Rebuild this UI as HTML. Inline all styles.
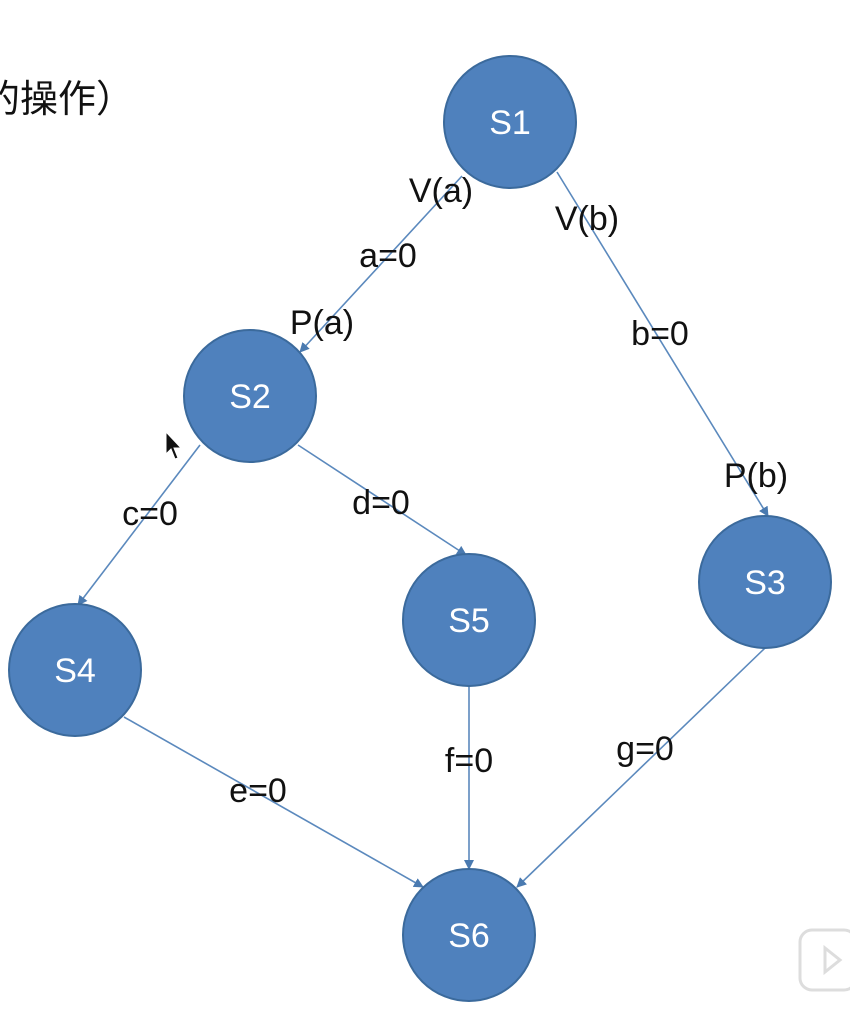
<!DOCTYPE html>
<html><head><meta charset="utf-8"><style>
html,body{margin:0;padding:0;background:#fff;}
body{width:850px;height:1014px;overflow:hidden;position:relative;}
svg{position:absolute;left:0;top:0;}
</style></head><body>
<svg width="850" height="1014" viewBox="0 0 850 1014" xmlns="http://www.w3.org/2000/svg">
<defs>
<marker id="ar" markerWidth="10" markerHeight="10" refX="9" refY="5" orient="auto" markerUnits="userSpaceOnUse">
<path d="M0,0 L10,5 L0,10 z" fill="#4a7ab0"/>
</marker>
</defs>
<text x="-18" y="112" font-family="Liberation Sans, Noto Sans CJK SC, sans-serif" font-size="38" fill="#111">的操作）</text>
<g stroke="#5b89bd" stroke-width="1.6" fill="none" marker-end="url(#ar)">
<line x1="462" y1="176" x2="300" y2="352"/>
<line x1="557" y1="172" x2="768" y2="516"/>
<line x1="200" y1="445" x2="78" y2="605"/>
<line x1="298" y1="445" x2="466" y2="555"/>
<line x1="765" y1="648" x2="517" y2="887"/>
<line x1="124" y1="717" x2="423" y2="887"/>
<line x1="469" y1="685" x2="469" y2="869"/>
</g>
<g fill="#4f81bd" stroke="#3b6a9c" stroke-width="2">
<circle cx="510" cy="122" r="66"/>
<circle cx="250" cy="396" r="66"/>
<circle cx="765" cy="582" r="66"/>
<circle cx="75" cy="670" r="66"/>
<circle cx="469" cy="620" r="66"/>
<circle cx="469" cy="935" r="66"/>
</g>
<g fill="#fff" font-family="Liberation Sans, sans-serif" font-size="34" text-anchor="middle">
<text x="510" y="134">S1</text>
<text x="250" y="408">S2</text>
<text x="765" y="594">S3</text>
<text x="75" y="682">S4</text>
<text x="469" y="632">S5</text>
<text x="469" y="947">S6</text>
</g>
<g fill="#111" font-family="Liberation Sans, sans-serif" font-size="34" text-anchor="middle">
<text x="441" y="202">V(a)</text>
<text x="388" y="267">a=0</text>
<text x="322" y="334">P(a)</text>
<text x="587" y="230">V(b)</text>
<text x="660" y="345">b=0</text>
<text x="756" y="487">P(b)</text>
<text x="150" y="525">c=0</text>
<text x="381" y="514">d=0</text>
<text x="469" y="772">f=0</text>
<text x="645" y="760">g=0</text>
<text x="258" y="802">e=0</text>
</g>
<path d="M166,432 L166,454 L171,449 L175,459 L178,458 L174,448 L181,448 z" fill="#111" stroke="#fff" stroke-width="1"/>
<g fill="none" stroke="#ddd" stroke-width="3">
<rect x="800" y="930" width="56" height="60" rx="12"/>
<path d="M825,948 L840,960 L825,972 z"/>
</g>
</svg>
</body></html>
